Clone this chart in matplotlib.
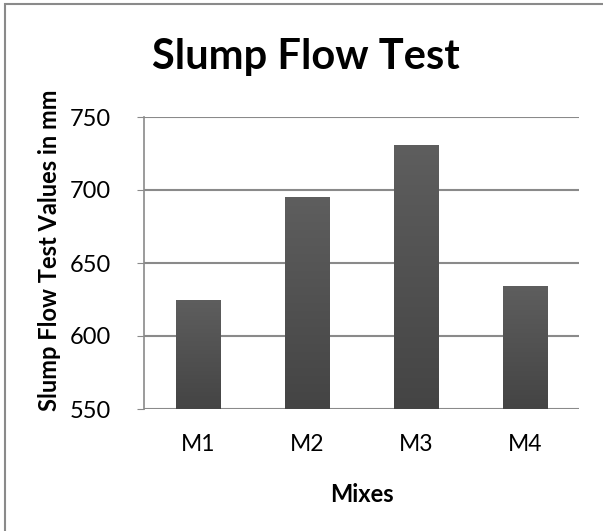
import numpy as np
import matplotlib.pyplot as plt
from matplotlib.colors import LinearSegmentedColormap
from matplotlib.patches import Rectangle

plt.rcParams['font.family'] = ['Lato', 'DejaVu Sans']

# slump flow results per mix
mixes = ['M1', 'M2', 'M3', 'M4']
slump_flow = [625, 695, 731, 634]
yticks = [550, 600, 650, 700, 750]

fig = plt.figure(figsize=(6.03, 5.31), dpi=100)
ax = fig.add_axes([144/603, 1 - 409/531, 435/603, 292/531])

x = np.arange(len(mixes))
bars = ax.bar(x, slump_flow, width=0.405, color='none', zorder=3)

# vertical grey gradient inside each bar
grad = np.linspace(0, 1, 256).reshape(-1, 1)
cmap = LinearSegmentedColormap.from_list('bar_grey', ['#444444', '#5e5e5e'])
for b in bars:
    x0 = b.get_x()
    x1 = x0 + b.get_width()
    im = ax.imshow(grad, cmap=cmap, origin='lower', aspect='auto',
                   extent=(x0, x1, yticks[0], b.get_height()), zorder=3)
    im.set_clip_path(b)

ax.set_xlim(-0.5, len(mixes) - 0.5)
ax.set_ylim(yticks[0], yticks[-1])
ax.set_yticks(yticks)
ax.set_xticks(x)
ax.set_xticklabels(mixes)
ax.yaxis.grid(True, color='#8a8a8a', linewidth=1.5, zorder=0)
ax.set_axisbelow(True)

for s in ['top', 'right', 'bottom']:
    ax.spines[s].set_visible(False)
ax.spines['left'].set_color('#8a8a8a')
ax.spines['left'].set_linewidth(1.2)
ax.tick_params(axis='y', length=5, color='#8a8a8a', labelsize=17, pad=19)
ax.tick_params(axis='x', length=0, labelsize=16.5, pad=18)

fig.text(306/603, 1 - 69/531, 'Slump Flow Test', fontsize=30,
         fontweight='bold', ha='center', va='baseline')
fig.text(362/603, 1 - 502/531, 'Mixes', fontsize=17,
         fontweight='bold', ha='center', va='baseline')
fig.text(50/603, 1 - 250/531, 'Slump Flow Test Values in mm', fontsize=17,
         fontweight='bold', ha='center', va='center', rotation=90)

# chart area border
fig.patches.append(Rectangle((5/603, -0.1), 1.2, 1.1 - 4/531,
                             transform=fig.transFigure, fill=False,
                             edgecolor='#8a8a8a', linewidth=1.5))

fig.savefig('out.png', dpi=100)
